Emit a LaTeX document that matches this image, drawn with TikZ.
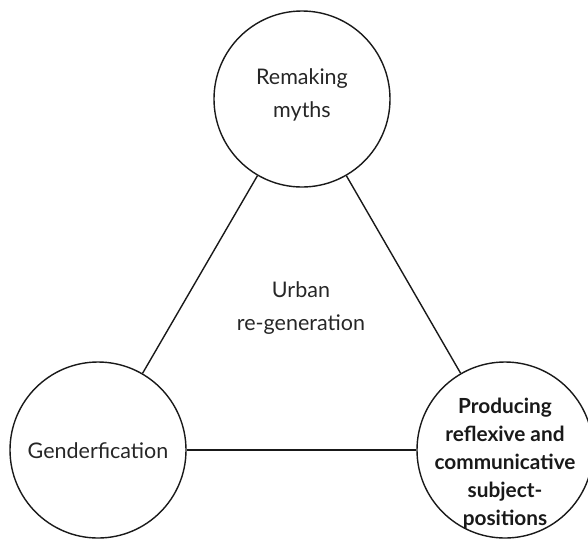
\documentclass[tikz,border=0pt]{standalone}
\usepackage{fontspec}
\setmainfont{Lato}
\begin{document}
\begin{tikzpicture}[x=1pt,y=-1pt,
  theme/.style={circle,draw=black!90,line width=1.4pt,minimum size=176pt,inner sep=0pt},
  txt/.style={align=center,text=black!85,font=\fontsize{21.5}{33}\selectfont,inner sep=0pt},
  boldtxt/.style={align=center,text=black!90,font=\fontsize{20.8}{28}\selectfont\bfseries,inner sep=0pt},
  link/.style={draw=black!90,line width=1.4pt}]
\useasboundingbox (0,0) rectangle (588,539);
\clip (0,0) rectangle (588,539);

% the three themes around the triangle
\node[theme,label={[txt,yshift=4pt]center:Remaking\\myths}] (myths) at (302,99) {};
\node[theme,label={[txt,yshift=-1pt]center:Genderfication}] (gender) at (98,450) {};
\node[theme,label={[boldtxt,yshift=-14pt]center:Producing\\reflexive and\\communicative\\subject-\\positions}] (subject) at (505,450) {};

% central theme
\node[txt] (urban) at (301,308) {Urban\\re-generation};

% links between the themes
\draw[link] (myths) -- (gender);
\draw[link] (myths) -- (subject);
\draw[link] (gender) -- (subject);
\end{tikzpicture}
\end{document}
